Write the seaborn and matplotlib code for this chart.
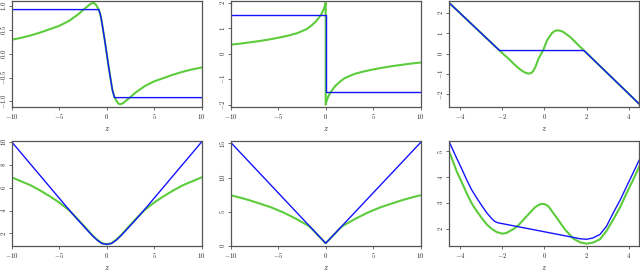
import matplotlib

matplotlib.use("Agg")
import matplotlib.pyplot as plt
import seaborn as sns

# top left: smooth step
z1_green = [-10, -9, -8, -7, -6, -5, -4, -3, -2.5, -2, -1.7, -1.4, -1.2, -1.0, -0.8, -0.6, -0.4, -0.2, 0,
            0.2, 0.4, 0.6, 0.8, 1.0, 1.2, 1.4, 1.7, 2, 2.5, 3, 4, 5, 6, 7, 8, 9, 10]
f1_green = [0.29, 0.33, 0.38, 0.44, 0.51, 0.58, 0.68, 0.82, 0.91, 0.99, 1.04, 1.06, 1.04, 0.98, 0.9, 0.76, 0.52, 0.27, 0,
            -0.27, -0.52, -0.76, -0.9, -0.98, -1.04, -1.06, -1.04, -0.99, -0.91, -0.82, -0.68, -0.58, -0.51, -0.44, -0.38, -0.33, -0.29]
z1_blue = [-10, -0.82, -0.6, -0.4, -0.2, 0, 0.2, 0.4, 0.6, 0.82, 10]
f1_blue = [0.92, 0.92, 0.76, 0.52, 0.27, 0, -0.27, -0.52, -0.76, -0.92, -0.92]

# top middle: sign jump
z2_green = [-10, -9, -8, -7, -6, -5, -4, -3, -2, -1.5, -1, -0.5, -0.25, -0.1, 0,
            0, 0.1, 0.25, 0.5, 1, 1.5, 2, 3, 4, 5, 6, 7, 8, 9, 10]
f2_green = [0.35, 0.39, 0.44, 0.49, 0.55, 0.62, 0.7, 0.8, 0.96, 1.1, 1.27, 1.52, 1.7, 1.85, 2.0,
            -2.0, -1.85, -1.7, -1.52, -1.27, -1.1, -0.96, -0.8, -0.7, -0.62, -0.55, -0.49, -0.44, -0.39, -0.35]
z2_blue = [-10, 0, 0, 10]
f2_blue = [1.5, 1.5, -1.5, -1.5]

# top right: wiggle between two lines
z3_green = [-4.5, -2.12, -1.9, -1.68, -1.45, -1.2, -1.0, -0.86, -0.74, -0.62, -0.52, -0.42, -0.27, -0.06, 0.13,
            0.36, 0.48, 0.6, 0.75, 0.9, 1.23, 1.54, 1.88, 4.5]
f3_green = [2.48, 0.15, -0.06, -0.26, -0.5, -0.73, -0.88, -0.95, -0.98, -0.95, -0.85, -0.65, -0.24, 0.15, 0.65,
            1.0, 1.1, 1.14, 1.12, 1.06, 0.81, 0.49, 0.15, -2.47]
z3_blue = [-4.5, -2.12, 1.88, 4.5]
f3_blue = [2.48, 0.15, 0.15, -2.47]

# bottom left: smooth V
z4_green = [-10, -9, -8, -7, -6, -5, -4, -3, -2, -1.5, -1, -0.5, 0, 0.5, 1, 1.5, 2, 3, 4, 5, 6, 7, 8, 9, 10]
f4_green = [6.9, 6.55, 6.2, 5.75, 5.25, 4.7, 4.05, 3.2, 2.3, 1.83, 1.45, 1.14, 1.05, 1.14, 1.45, 1.83, 2.3, 3.2,
            4.05, 4.7, 5.25, 5.75, 6.2, 6.55, 6.9]
z4_blue = [-10, -4, -3, -2, -1.5, -1, -0.5, 0, 0.5, 1, 1.5, 2, 3, 4, 10]
f4_blue = [10.0, 4.1, 3.15, 2.24, 1.8, 1.41, 1.12, 1.05, 1.12, 1.41, 1.8, 2.24, 3.15, 4.1, 10.0]

# bottom middle: sharp V
z5_green = [-10, -9, -8, -7, -5.8, -4.5, -3.7, -3, -2.5, -1.8, -1.5, -1, -0.5, 0,
            0.5, 1, 1.5, 1.8, 2.5, 3, 3.7, 4.5, 5.8, 7, 8, 9, 10]
f5_green = [7.4, 7.05, 6.65, 6.2, 5.65, 4.9, 4.35, 3.85, 3.45, 2.9, 2.55, 1.8, 1.08, 0.35,
            1.08, 1.8, 2.55, 2.9, 3.45, 3.85, 4.35, 4.9, 5.65, 6.2, 6.65, 7.05, 7.4]
z5_blue = [-10, 0, 10]
f5_blue = [15.15, 0.35, 15.15]

# bottom right: double well
z6_green = [-4.47, -4.15, -3.9, -3.68, -3.45, -3.2, -2.95, -2.73, -2.5, -2.26, -2.0, -1.8, -1.63, -1.43, -1.23,
            -0.83, -0.44, -0.25, -0.12, 0.03, 0.19, 0.59, 0.98, 1.37, 1.7, 2.0, 2.3, 2.64, 2.95, 3.27, 3.6, 3.9, 4.2, 4.5]
f6_green = [4.92, 4.22, 3.78, 3.38, 3.0, 2.68, 2.4, 2.17, 2.0, 1.87, 1.81, 1.83, 1.91, 2.0, 2.13,
            2.49, 2.83, 2.93, 2.96, 2.95, 2.87, 2.42, 1.97, 1.62, 1.47, 1.42, 1.46, 1.59, 1.92, 2.36, 2.85, 3.38, 3.88, 4.41]
z6_blue = [-4.5, -4.15, -3.9, -3.68, -3.45, -3.2, -2.95, -2.73, -2.5, -2.34, -2.2, 1.4, 1.7, 2.0, 2.3, 2.64,
           2.95, 3.27, 3.6, 3.9, 4.2, 4.5]
f6_blue = [5.36, 4.73, 4.3, 3.9, 3.52, 3.19, 2.88, 2.62, 2.4, 2.28, 2.23, 1.66, 1.61, 1.59, 1.64, 1.78,
           2.1, 2.62, 3.12, 3.64, 4.15, 4.67]

panels = [
    (z1_green, f1_green, z1_blue, f1_blue, (-10, 10), (-1.11, 1.11), [-10, -5, 0, 5, 10], [-1, -0.5, 0, 0.5, 1]),
    (z2_green, f2_green, z2_blue, f2_blue, (-10, 10), (-2.08, 2.08), [-10, -5, 0, 5, 10], [-2, -1, 0, 1, 2]),
    (z3_green, f3_green, z3_blue, f3_blue, (-4.5, 4.5), (-2.6, 2.6), [-4, -2, 0, 2, 4], [-2, -1, 0, 1, 2]),
    (z4_green, f4_green, z4_blue, f4_blue, (-10, 10), (0.9, 10.1), [-10, -5, 0, 5, 10], [2, 4, 6, 8, 10]),
    (z5_green, f5_green, z5_blue, f5_blue, (-10, 10), (-0.05, 15.4), [-10, -5, 0, 5, 10], [0, 5, 10, 15]),
    (z6_green, f6_green, z6_blue, f6_blue, (-4.5, 4.5), (1.33, 5.41), [-4, -2, 0, 2, 4], [2, 3, 4, 5]),
]

sns.set_theme(style="white")
plt.rcParams.update({
    "font.family": "serif",
    "font.serif": ["cmr10", "DejaVu Serif"],
    "mathtext.fontset": "cm",
    "axes.formatter.use_mathtext": True,
    "axes.unicode_minus": True,
})

GREEN = "#5ccc3c"
BLUE = "#1414ff"

fig = plt.figure(figsize=(6.4, 2.76), dpi=100)
lefts = [11.7, 230.7, 449.3]
rows = [(0.5, 106.7), (140.7, 246.0)]

for i, (zg, fg, zb, fb, xlim, ylim, xt, yt) in enumerate(panels):
    top, bottom = rows[i // 3]
    left = lefts[i % 3]
    ax = fig.add_axes([left / 640, 1 - bottom / 276, 190 / 640, (bottom - top) / 276])
    sns.lineplot(x=zg, y=fg, ax=ax, color=GREEN, lw=1.5, estimator=None, sort=False)
    sns.lineplot(x=zb, y=fb, ax=ax, color=BLUE, lw=1.0, estimator=None, sort=False)
    ax.set_xlim(*xlim)
    ax.set_ylim(*ylim)
    ax.set_xticks(xt)
    ax.set_yticks(yt)
    ax.set_xlabel("$z$", fontsize=6, labelpad=3)
    ax.tick_params(direction="out", length=2.0, width=0.6, color="#555555", labelsize=4.8, pad=1.5,
                   bottom=True, left=True)
    ax.tick_params(axis="y", labelrotation=90, pad=1.0)
    for lab in ax.get_yticklabels():
        lab.set_va("center")
    for sp in ax.spines.values():
        sp.set_color("#555555")
        sp.set_linewidth(0.9)

fig.savefig("out.png", dpi=100)
